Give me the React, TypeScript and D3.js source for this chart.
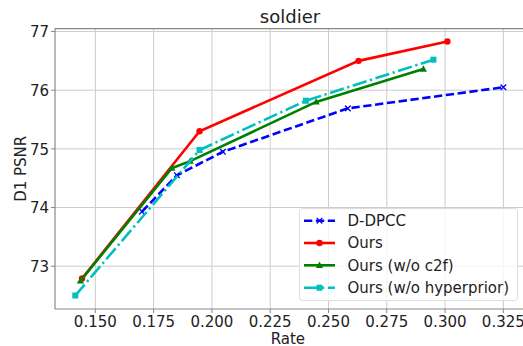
import React from "react";
import * as d3 from "d3";

const W = 523, H = 346;
const xTicks = [0.15, 0.175, 0.2, 0.225, 0.25, 0.275, 0.3, 0.325];
const yTicks = [73, 74, 75, 76, 77];

const ddpccRate = [0.170, 0.185, 0.2047, 0.2583, 0.325];
const ddpccPsnr = [73.93, 74.55, 74.95, 75.69, 76.05];
const oursRate = [0.1443, 0.1947, 0.2629, 0.301];
const oursPsnr = [72.79, 75.30, 76.50, 76.83];
const c2fRate = [0.1436, 0.1828, 0.1907, 0.2447, 0.2907];
const c2fPsnr = [72.75, 74.67, 74.79, 75.80, 76.36];
const hypRate = [0.1414, 0.1947, 0.2403, 0.295];
const hypPsnr = [72.50, 74.98, 75.82, 76.52];

const seriesNames = ["D-DPCC", "Ours", "Ours (w/o c2f)", "Ours (w/o hyperprior)"];

const FONT = "DejaVu Sans, sans-serif";

export default function App() {
  const left = 55, right = 524.8, top = 28.6, bottom = 309;
  const x = d3.scaleLinear().domain([0.1327, 0.3342]).range([left, right]);
  const y = d3.scaleLinear().domain([72.27, 77.05]).range([bottom, top]);
  const line = d3.line<[number, number]>().x(d => x(d[0])).y(d => y(d[1]));
  const zip = (a: number[], b: number[]) => a.map((v, i) => [v, b[i]] as [number, number]);

  const series = [
    { name: seriesNames[0], pts: zip(ddpccRate, ddpccPsnr), color: "#0000ff", dash: "8.3,3.6", marker: "x" },
    { name: seriesNames[1], pts: zip(oursRate, oursPsnr), color: "#ff0000", dash: "", marker: "o" },
    { name: seriesNames[2], pts: zip(c2fRate, c2fPsnr), color: "#008000", dash: "", marker: "^" },
    { name: seriesNames[3], pts: zip(hypRate, hypPsnr), color: "#00bfbf", dash: "14.4,3.6,2.25,3.6", marker: "s" },
  ];
  const lw = 2.6;

  const marker = (m: string, cx: number, cy: number, c: string, key: any) => {
    if (m === "o") return <circle key={key} cx={cx} cy={cy} r={3.2} fill={c} />;
    if (m === "s") return <rect key={key} x={cx - 3} y={cy - 3} width={6} height={6} fill={c} />;
    if (m === "^") return <path key={key} d={`M${cx},${cy - 3.8}L${cx + 3.6},${cy + 2.6}L${cx - 3.6},${cy + 2.6}Z`} fill={c} />;
    return <path key={key} d={`M${cx - 2.8},${cy - 2.8}L${cx + 2.8},${cy + 2.8}M${cx - 2.8},${cy + 2.8}L${cx + 2.8},${cy - 2.8}`} stroke={c} strokeWidth={1.3} />;
  };

  const lgX = 299.5, lgY = 208.5, lgW = 218, lgH = 92;
  const rowY = [220.7, 243, 265.3, 287.7];

  return (
    <svg width={W} height={H} style={{ position: "absolute", left: 0, top: 0 }} fontFamily={FONT}>
      <rect width={W} height={H} fill="#fff" />
      <defs>
        <clipPath id="pa"><rect x={left} y={top} width={right - left} height={bottom - top} /></clipPath>
      </defs>
      {xTicks.map(t => (
        <line key={"gx" + t} x1={x(t)} x2={x(t)} y1={top} y2={bottom} stroke="#cccccc" strokeWidth={1} />
      ))}
      {yTicks.map(t => (
        <line key={"gy" + t} x1={left} x2={right} y1={y(t)} y2={y(t)} stroke="#cccccc" strokeWidth={1} />
      ))}
      <g clipPath="url(#pa)">
        {series.map(s => (
          <g key={s.name}>
            <path d={line(s.pts) || ""} fill="none" stroke={s.color} strokeWidth={lw} strokeDasharray={s.dash} />
            {s.pts.map((p, i) => marker(s.marker, x(p[0]), y(p[1]), s.color, i))}
          </g>
        ))}
      </g>
      <line x1={left} x2={left} y1={top} y2={bottom} stroke="#888" strokeWidth={1.2} />
      <line x1={left} x2={right} y1={bottom} y2={bottom} stroke="#888" strokeWidth={1.2} />
      <line x1={left} x2={right} y1={top} y2={top} stroke="#888" strokeWidth={1.2} />
      {xTicks.map(t => (
        <g key={"tx" + t}>
          <line x1={x(t)} x2={x(t)} y1={bottom} y2={bottom + 4} stroke="#888" />
          <text x={x(t)} y={326.5} textAnchor="middle" fontSize={15} fill="#222">{t.toFixed(3)}</text>
        </g>
      ))}
      {yTicks.map(t => (
        <g key={"ty" + t}>
          <line x1={left - 4} x2={left} y1={y(t)} y2={y(t)} stroke="#888" />
          <text x={left - 6} y={y(t) + 5.8} textAnchor="end" fontSize={15} fill="#222">{t}</text>
        </g>
      ))}
      <text x={(left + right) / 2 - 2} y={343.5} textAnchor="middle" fontSize={15} fill="#222">Rate</text>
      <text transform={`translate(25.5,${(top + bottom) / 2}) rotate(-90)`} textAnchor="middle" fontSize={15} fill="#222">D1 PSNR</text>
      <text x={290} y={22.5} textAnchor="middle" fontSize={18} fill="#222">soldier</text>
      <rect x={lgX} y={lgY} width={lgW} height={lgH} rx={3} fill="#fff" fillOpacity={0.8} stroke="#dddddd" />
      {series.map((s, i) => (
        <g key={"lg" + i}>
          <line x1={304} x2={335} y1={rowY[i]} y2={rowY[i]} stroke={s.color} strokeWidth={lw} strokeDasharray={s.dash} />
          {marker(s.marker, 319.5, rowY[i], s.color, "m")}
          <text x={347.5} y={rowY[i] + 5.3} fontSize={15} fill="#222">{s.name}</text>
        </g>
      ))}
    </svg>
  );
}
